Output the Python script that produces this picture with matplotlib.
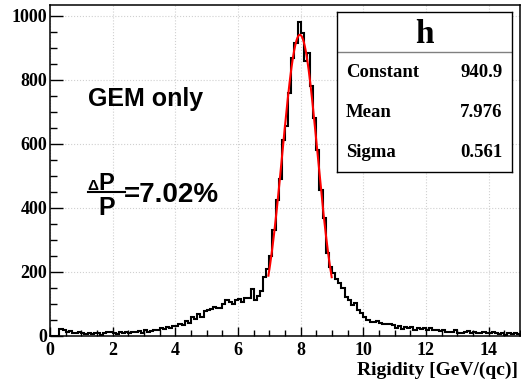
import numpy as np
import matplotlib
matplotlib.use("Agg")
import matplotlib.pyplot as plt
from matplotlib.lines import Line2D

# histogram: 150 bins of 0.1 GeV/(qc) from 0 to 15
bin_edges = np.round(np.arange(0, 15.01, 0.1), 2)
counts = [
    0, 0, 0, 22, 20, 14, 15, 10, 8, 12,
    8, 7, 10, 6, 9, 8, 4, 10, 12, 14,
    8, 6, 12, 10, 11, 10, 14, 12, 16, 10,
    18, 14, 16, 20, 18, 24, 22, 28, 26, 32,
    30, 36, 34, 48, 40, 60, 52, 68, 58, 78,
    80, 84, 90, 86, 88, 100, 112, 105, 100, 112,
    115, 105, 118, 120, 148, 112, 125, 140, 185, 210,
    250, 330, 425, 490, 612, 655, 760, 868, 915, 980,
    945, 860, 885, 780, 680, 580, 455, 368, 258, 216,
    196, 178, 165, 150, 122, 112, 97, 103, 81, 72,
    60, 50, 44, 44, 47, 40, 38, 38, 38, 33,
    25, 30, 22, 28, 24, 28, 20, 26, 22, 26,
    20, 24, 18, 20, 16, 18, 14, 12, 14, 18,
    10, 8, 12, 15, 10, 12, 10, 8, 12, 10,
    8, 12, 10, 6, 10, 4, 8, 5, 8, 6,
]

# gaussian fit parameters (stat box)
fit_names = ["Constant", "Mean", "Sigma"]
fit_values = [940.9, 7.976, 0.561]
fit_labels = ["940.9", "7.976", "0.561"]
fit_range = (6.97, 8.99)

serif = "Liberation Serif"
sans = "Liberation Sans"

fig = plt.figure(figsize=(5.21, 3.80), dpi=100)
ax = fig.add_axes([50 / 521, 44 / 380, 470 / 521, 331 / 380])

ax.stairs(counts, bin_edges, color="black", lw=1.5, zorder=3)

const, mean, sigma = fit_values
xf = np.linspace(fit_range[0], fit_range[1], 300)
ax.plot(xf, const * np.exp(-0.5 * ((xf - mean) / sigma) ** 2),
        color="red", lw=1.5, zorder=4)

ax.set_xlim(0, 15)
ax.set_ylim(0, 1034)
ax.set_xticks(np.arange(0, 15, 2))
ax.set_xticks(np.arange(0, 15.01, 0.5), minor=True)
ax.set_yticks(np.arange(0, 1001, 200))
ax.set_yticks(np.arange(0, 1001, 50), minor=True)
ax.grid(True, which="major", color="#d0d0d0", ls=":", lw=0.8)
ax.set_axisbelow(True)

ax.tick_params(axis="both", which="both", direction="in", top=False, right=False,
               color="black", width=1.0)
ax.tick_params(axis="y", which="major", length=9.5, pad=2)
ax.tick_params(axis="y", which="minor", length=5)
ax.tick_params(axis="x", which="major", length=6.5, pad=4)
ax.tick_params(axis="x", which="minor", length=4)
for lab in ax.get_xticklabels() + ax.get_yticklabels():
    lab.set_fontfamily(serif)
    lab.set_fontweight("bold")
    lab.set_fontsize(13)
for sp in ax.spines.values():
    sp.set_linewidth(1.1)

fig.text(518 / 521, 1 - 370 / 380, "Rigidity [GeV/(qc)]", ha="right", va="center",
         fontfamily=serif, fontweight="bold", fontsize=14)

# annotations
def axf(px, py):
    return (px - 50) / 470, (336 - py) / 331

ax.text(*axf(88, 106), "GEM only", transform=ax.transAxes, ha="left", va="baseline",
        fontfamily=sans, fontweight="bold", fontsize=18)
ax.text(*axf(93, 190), "\u0394", transform=ax.transAxes, ha="center", va="baseline",
        fontfamily=sans, fontweight="bold", fontsize=11)
ax.text(*axf(98, 190), "P", transform=ax.transAxes, ha="left", va="baseline",
        fontfamily=sans, fontweight="bold", fontsize=17)
x0, yb = axf(88, 192)
x1, _ = axf(125, 192)
ax.add_line(Line2D([x0, x1], [yb, yb], transform=ax.transAxes, color="black", lw=1.5))
ax.text(*axf(107, 215), "P", transform=ax.transAxes, ha="center", va="baseline",
        fontfamily=sans, fontweight="bold", fontsize=18)
ax.text(*axf(124, 202), "=7.02%", transform=ax.transAxes, ha="left", va="baseline",
        fontfamily=sans, fontweight="bold", fontsize=20)

# stat box
box = fig.add_axes([337 / 521, 1 - 172 / 380, 175 / 521, 160 / 380])
box.set_xlim(0, 1)
box.set_ylim(0, 1)
box.set_xticks([])
box.set_yticks([])
for sp in box.spines.values():
    sp.set_linewidth(1.0)
box.axhline(0.75, color="#808080", lw=1.0)
box.text(0.5, 0.862, "h", ha="center", va="center", fontfamily=serif,
         fontweight="bold", fontsize=24)
for i, (name, val) in enumerate(zip(fit_names, fit_labels)):
    yy = 0.625 - 0.25 * i
    box.text(0.05, yy, name, ha="left", va="center", fontfamily=serif,
             fontweight="bold", fontsize=13.5)
    box.text(0.945, yy, val, ha="right", va="center", fontfamily=serif,
             fontweight="bold", fontsize=13.5)

fig.savefig("out.png", dpi=100)
